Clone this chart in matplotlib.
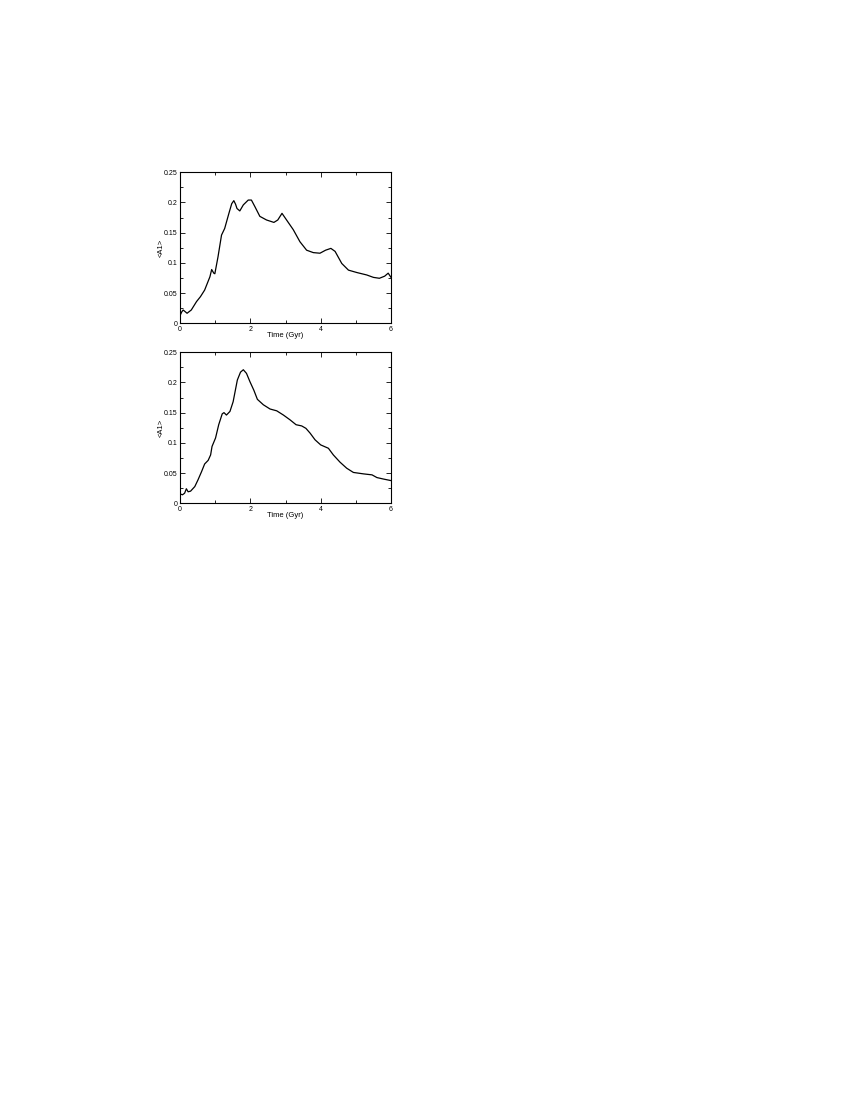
import numpy as np
import matplotlib
matplotlib.use('Agg')
import matplotlib.pyplot as plt
from matplotlib.ticker import MultipleLocator

# top panel
t_top = [0.0, 0.05, 0.09, 0.2, 0.32, 0.47, 0.58, 0.70, 0.85, 0.9, 0.96, 0.99, 1.08, 1.18, 1.27,
         1.39, 1.47, 1.53, 1.58, 1.62, 1.70, 1.8, 1.94, 2.03, 2.13, 2.27, 2.46, 2.67, 2.78, 2.9,
         3.03, 3.22, 3.41, 3.6, 3.79, 3.98, 4.14, 4.29, 4.41, 4.6, 4.79, 5.03, 5.31, 5.5, 5.67,
         5.82, 5.92, 6.0]
a1_top = [0.0127, 0.019, 0.022, 0.0166, 0.022, 0.036, 0.044, 0.055, 0.077, 0.089, 0.083, 0.082,
          0.11, 0.146, 0.157, 0.182, 0.198, 0.203, 0.197, 0.19, 0.186, 0.196, 0.204, 0.204, 0.193,
          0.177, 0.171, 0.167, 0.171, 0.182, 0.171, 0.155, 0.135, 0.121, 0.117, 0.116, 0.121,
          0.124, 0.119, 0.099, 0.088, 0.084, 0.080, 0.076, 0.0745, 0.078, 0.083, 0.076]

# bottom panel
t_bot = [0.0, 0.07, 0.13, 0.18, 0.23, 0.3, 0.42, 0.51, 0.61, 0.7, 0.8, 0.87, 0.91, 1.01,
         1.1, 1.2, 1.25, 1.32, 1.42, 1.51, 1.63, 1.72, 1.8, 1.89, 1.99, 2.1, 2.2, 2.37, 2.56,
         2.75, 2.94, 3.13, 3.3, 3.46, 3.58, 3.7, 3.84, 4.0, 4.22, 4.36, 4.55, 4.74, 4.93,
         5.22, 5.46, 5.6, 5.79, 6.0]
a1_bot = [0.0155, 0.014, 0.0166, 0.024, 0.019, 0.020, 0.0276, 0.0386, 0.052, 0.065, 0.071,
          0.080, 0.094, 0.108, 0.130, 0.148, 0.150, 0.146, 0.152, 0.168, 0.204, 0.217, 0.221,
          0.215, 0.201, 0.187, 0.172, 0.163, 0.156, 0.153, 0.146, 0.138, 0.130, 0.128, 0.124,
          0.116, 0.105, 0.0966, 0.091, 0.080, 0.068, 0.058, 0.051, 0.0486, 0.047, 0.0425,
          0.040, 0.0375]

plt.rcParams['font.family'] = ['Liberation Sans', 'DejaVu Sans']
plt.rcParams['font.size'] = 5

fig = plt.figure(figsize=(8.5, 11), dpi=100)
ax1 = fig.add_axes([0.2118, 0.7061, 0.2482, 0.1373])
ax2 = fig.add_axes([0.2118, 0.5425, 0.2482, 0.1373])

for ax, t, a in [(ax1, t_top, a1_top), (ax2, t_bot, a1_bot)]:
    ax.plot(t, a, color='black', lw=0.9, solid_joinstyle='round')
    ax.set_xlim(0, 6)
    ax.set_ylim(0, 0.25)
    ax.xaxis.set_major_locator(MultipleLocator(2))
    ax.xaxis.set_minor_locator(MultipleLocator(1))
    ax.yaxis.set_major_locator(MultipleLocator(0.05))
    ax.yaxis.set_minor_locator(MultipleLocator(0.025))
    ax.set_xticks([0, 2, 4, 6])
    ax.set_xticklabels(['0', '2', '4', '6'])
    ax.set_yticks([0, 0.05, 0.1, 0.15, 0.2, 0.25])
    ax.set_yticklabels(['0', '0.05', '0.1', '0.15', '0.2', '0.25'])
    ax.tick_params(which='both', direction='in', top=True, right=True, width=0.6,
                   labelsize=5, pad=2)
    ax.tick_params(which='major', length=3.5)
    ax.tick_params(which='minor', length=2)
    for s in ax.spines.values():
        s.set_linewidth(0.8)
    ax.set_xlabel('Time (Gyr)', fontsize=5.5, labelpad=-0.5)
    ax.set_ylabel('<A1>', fontsize=5.5, labelpad=-1)

fig.savefig('out.png', dpi=100)
